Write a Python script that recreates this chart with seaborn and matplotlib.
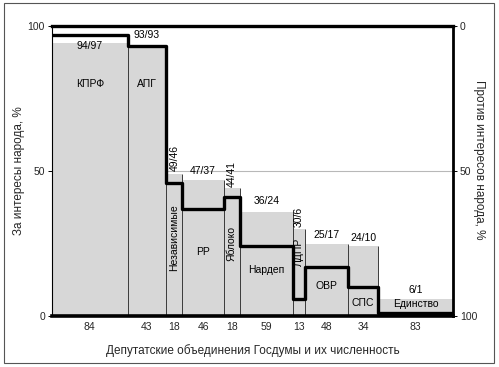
import numpy as np
import matplotlib
matplotlib.use("Agg")
import matplotlib.pyplot as plt
import seaborn as sns
import pandas as pd
from matplotlib.patches import Rectangle

parties = ["КПРФ", "АПГ", "Независимые", "РР", "Яблоко", "Нардеп", "ЛДПР", "ОВР", "СПС", "Единство"]
members = [84, 43, 18, 46, 18, 59, 13, 48, 34, 83]
pro_people = [94, 93, 49, 47, 44, 36, 30, 25, 24, 6]
against_people = [97, 93, 46, 37, 41, 24, 6, 17, 10, 1]

# label placement (value units) and orientation
name_y = [80, 80, 27, 22, 25, 16, 22, 10.3, 4.5, 4]
name_rot = [0, 0, 90, 0, 90, 0, 90, 0, 0, 0]
pair_y = [93, 97, 54.5, 50, 49, 39.5, 34, 28, 27, 9]
pair_rot = [0, 0, 90, 0, 90, 0, 90, 0, 0, 0]

sns.set_theme(style="white")
plt.rcParams["font.family"] = ["Liberation Sans", "DejaVu Sans"]

fig = plt.figure(figsize=(4.99, 3.67), dpi=100)
ax = fig.add_axes([52/499, 1-316/367, (453-52)/499, (316-26)/367])

w = np.array(members, dtype=float)
left = np.concatenate([[0], np.cumsum(w)[:-1]])
centers = left + w/2
total = w.sum()

ax.axhline(50, color="#b8b8b8", lw=0.8, zorder=0)
ax.bar(left, pro_people, width=w, align="edge", color="#d7d7d7", edgecolor="none", zorder=1)

# thin separators between bars
for i in range(1, len(w)):
    h = max(pro_people[i-1], pro_people[i])
    ax.vlines(left[i], 0, h, color="#3a3a3a", lw=0.7, zorder=2)

df = pd.DataFrame({"x": np.concatenate([left, [total]]),
                   "y": against_people + [against_people[-1]]})
sns.lineplot(data=df, x="x", y="y", ax=ax, drawstyle="steps-post", color="black",
             lw=2.4, sort=False, estimator=None, zorder=4)

for i in range(len(w)):
    ax.text(centers[i], name_y[i], parties[i], rotation=name_rot[i], ha="center",
            va="center", fontsize=7.5, color="black", zorder=5)
    ax.text(centers[i], pair_y[i], f"{pro_people[i]}/{against_people[i]}", rotation=pair_rot[i],
            ha="center", va="center", fontsize=7.5, color="black", zorder=5)

ax.set_xlim(0, total)
ax.set_ylim(0, 100)
ax.set_xticks(centers)
ax.set_xticklabels([str(m) for m in members], fontsize=7.5)
ax.set_yticks([0, 50, 100])
ax.set_yticklabels(["0", "50", "100"], fontsize=7.5)
ax.tick_params(axis="x", length=0, pad=4)
ax.tick_params(axis="y", length=3, width=0.7, color="black", pad=2, left=True)
ax.set_xlabel("Депутатские объединения Госдумы и их численность", fontsize=8.5, labelpad=9)
ax.set_ylabel("За интересы народа, %", fontsize=8.5, labelpad=2)
for s, lw in [("top", 2.4), ("right", 2.0), ("bottom", 2.6), ("left", 0.8)]:
    ax.spines[s].set_visible(True)
    ax.spines[s].set_color("black")
    ax.spines[s].set_linewidth(lw)
ax.set_facecolor("white")

ax2 = ax.twinx()
ax2.set_ylim(100, 0)
ax2.set_yticks([0, 50, 100])
ax2.set_yticklabels(["0", "50", "100"], fontsize=7.5)
ax2.tick_params(axis="y", length=3, width=0.7, color="black", pad=2, right=True)
for s in ax2.spines.values():
    s.set_visible(False)
ax2.set_ylabel("Против интересов народа, %", fontsize=8.5, rotation=-90, labelpad=8)
ax2.yaxis.set_label_coords(1.08, 0.54)
ax2.grid(False)
ax.grid(False)

fig.patches.append(Rectangle((4/499, 1-363/367), 490/499, 360/367, transform=fig.transFigure,
                             fill=False, edgecolor="#555555", lw=0.8))

fig.savefig("out.png", dpi=100)
